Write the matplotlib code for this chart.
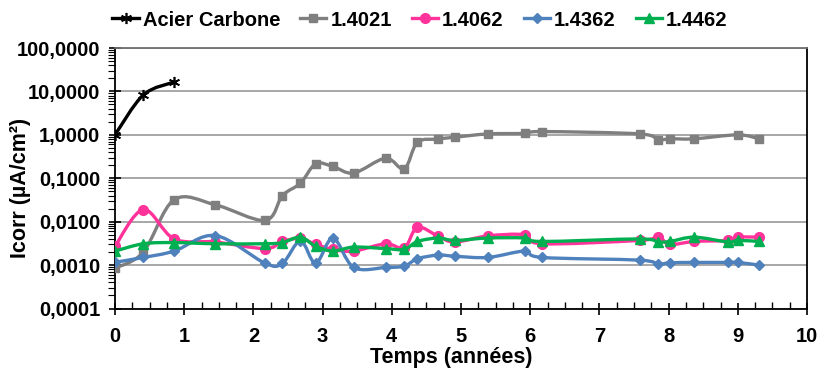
import numpy as np
import matplotlib
matplotlib.use('Agg')
import matplotlib.pyplot as plt
from matplotlib.path import Path
from matplotlib.patches import PathPatch
from matplotlib.lines import Line2D
from matplotlib.ticker import FixedLocator, LogLocator, FuncFormatter, NullFormatter

plt.rcParams['font.family'] = ['Liberation Sans', 'DejaVu Sans']
plt.rcParams['font.weight'] = 'bold'

# data (time in years, Icorr in uA/cm2)
acier_t = [0.0, 0.41, 0.855]
acier_i = [1.0, 8.3, 16.5]

s4021_t = [0.0, 0.41, 0.855, 1.45, 2.17, 2.42, 2.68, 2.9, 3.15, 3.45, 3.91, 4.18, 4.37,
           4.67, 4.91, 5.39, 5.92, 6.17, 7.58, 7.85, 8.02, 8.37, 9.0, 9.31]
s4021_i = [0.00085, 0.0020, 0.032, 0.0245, 0.0107, 0.040, 0.077, 0.215, 0.187, 0.132, 0.29,
           0.165, 0.67, 0.80, 0.88, 1.05, 1.08, 1.19, 1.05, 0.77, 0.81, 0.81, 1.0, 0.81]

s4062_t = [0.0, 0.41, 0.855, 1.45, 2.17, 2.42, 2.68, 2.9, 3.15, 3.45, 3.91, 4.18, 4.37,
           4.67, 4.91, 5.39, 5.92, 6.17, 7.58, 7.85, 8.02, 8.37, 8.86, 9.0, 9.31]
s4062_i = [0.0027, 0.019, 0.0040, 0.0034, 0.0024, 0.0035, 0.0041, 0.0030, 0.0023, 0.0021,
           0.0031, 0.0025, 0.0074, 0.0046, 0.0034, 0.0047, 0.0050, 0.0031, 0.0037, 0.0044,
           0.0030, 0.0035, 0.0037, 0.0044, 0.0044]

s4362_t = [0.0, 0.41, 0.855, 1.45, 2.17, 2.42, 2.68, 2.9, 3.15, 3.45, 3.91, 4.18, 4.37,
           4.67, 4.91, 5.39, 5.92, 6.17, 7.58, 7.85, 8.02, 8.37, 8.86, 9.0, 9.31]
s4362_i = [0.00116, 0.0015, 0.0021, 0.0048, 0.0011, 0.0011, 0.0036, 0.0011, 0.0042, 0.00088,
           0.00088, 0.00095, 0.0014, 0.0017, 0.0016, 0.0015, 0.0021, 0.0015, 0.0013, 0.00105,
           0.00113, 0.00115, 0.00115, 0.00115, 0.0010]

s4462_t = [0.0, 0.41, 0.855, 1.45, 2.17, 2.42, 2.68, 2.9, 3.15, 3.45, 3.91, 4.18, 4.37,
           4.67, 4.91, 5.39, 5.92, 6.17, 7.58, 7.85, 8.02, 8.37, 8.86, 9.0, 9.31]
s4462_i = [0.0021, 0.0031, 0.0033, 0.0031, 0.0031, 0.0033, 0.0044, 0.0027, 0.0021, 0.0026,
           0.0024, 0.0023, 0.0035, 0.0042, 0.0037, 0.0042, 0.0042, 0.0035, 0.0040, 0.0034,
           0.0035, 0.0044, 0.0034, 0.0037, 0.0035]

labels = ['Acier Carbone', '1.4021', '1.4062', '1.4362', '1.4462']
x_ticks = list(range(0, 11))
y_ticks = [0.0001, 0.001, 0.01, 0.1, 1, 10, 100]


def smooth_path(t, v):
    '''excel-like smoothed line: cubic bezier through the points, built in (t, log v) space'''
    p = np.column_stack([np.asarray(t, float), np.log10(v)])
    n = len(p)
    verts = [p[0]]
    codes = [Path.MOVETO]
    for i in range(n - 1):
        p0 = p[i - 1] if i > 0 else p[i]
        p3 = p[i + 2] if i + 2 < n else p[i + 1]
        c1 = p[i] + (p[i + 1] - p0) / 6.
        c2 = p[i + 1] - (p3 - p[i]) / 6.
        verts += [c1, c2, p[i + 1]]
        codes += [Path.CURVE4] * 3
    verts = np.array(verts)
    verts[:, 1] = 10 ** verts[:, 1]
    return Path(verts, codes)


series = [
    (acier_t, acier_i, 'black', dict(marker=(6, 2, 0), ms=8, mew=1.2)),
    (s4021_t, s4021_i, '#7f7f7f', dict(marker='s', ms=6)),
    (s4062_t, s4062_i, '#ff3399', dict(marker='o', ms=7)),
    (s4362_t, s4362_i, '#4f81bd', dict(marker='D', ms=5)),
    (s4462_t, s4462_i, '#00b050', dict(marker='^', ms=7)),
]

fig = plt.figure(figsize=(8.22, 3.69), dpi=100)
ax = fig.add_axes([115/822, 1 - 308.5/369, 692/822, 260.5/369])

handles = []
for k, (t, v, col, mk) in enumerate(series):
    patch = PathPatch(smooth_path(t, v), facecolor='none', edgecolor=col, lw=2.4,
                      zorder=3 + k, capstyle='round', joinstyle='round')
    ax.add_patch(patch)
    ax.plot(t, v, linestyle='none', color=col, mec=col, zorder=3 + k, **mk)
    handles.append(Line2D([], [], color=col, lw=2.4, mec=col, **mk))

ax.set_yscale('log')
ax.set_xlim(0, 10)
ax.set_ylim(0.0001, 100)

ax.xaxis.set_major_locator(FixedLocator(x_ticks))
ax.xaxis.set_minor_locator(FixedLocator(np.arange(0, 10.01, 0.25)))
ax.yaxis.set_major_locator(FixedLocator(y_ticks))
ax.yaxis.set_minor_locator(LogLocator(base=10, subs=np.arange(2, 10)))
ax.yaxis.set_minor_formatter(NullFormatter())
ax.yaxis.set_major_formatter(FuncFormatter(lambda v, pos: f'{v:.4f}'.replace('.', ',')))

ax.tick_params(axis='both', which='major', direction='inout', length=9, width=1.2,
               labelsize=14.5, color='black')
ax.tick_params(axis='x', which='major', pad=9)
ax.tick_params(axis='y', which='major', pad=6)
ax.tick_params(axis='x', which='minor', direction='in', length=5, width=1.0)
ax.tick_params(axis='y', which='minor', direction='out', length=5, width=0.8)

ax.grid(axis='y', which='major', color='#a0a0a0', linewidth=1.3)
ax.set_axisbelow(True)

for side in ['left', 'bottom', 'right']:
    ax.spines[side].set_color('black')
    ax.spines[side].set_linewidth(1.3)
ax.spines['top'].set_color('#707070')
ax.spines['top'].set_linewidth(1.3)

ax.set_xlabel('Temps (années)', fontsize=15.5, fontweight='bold', va='center')
ax.xaxis.set_label_coords(0.486, -0.19)
ax.set_ylabel('Icorr (µA/cm²)', fontsize=15.5, fontweight='bold', va='center')
ax.yaxis.set_label_coords(-0.137, 0.463)

fig.legend(handles, labels, loc='center', bbox_to_anchor=(420/822, 1 - 20/369), ncol=5,
           frameon=False, fontsize=14.5, handlelength=1.3, handletextpad=0.2,
           columnspacing=1.0, borderaxespad=0)

fig.savefig('out.png', dpi=100)
